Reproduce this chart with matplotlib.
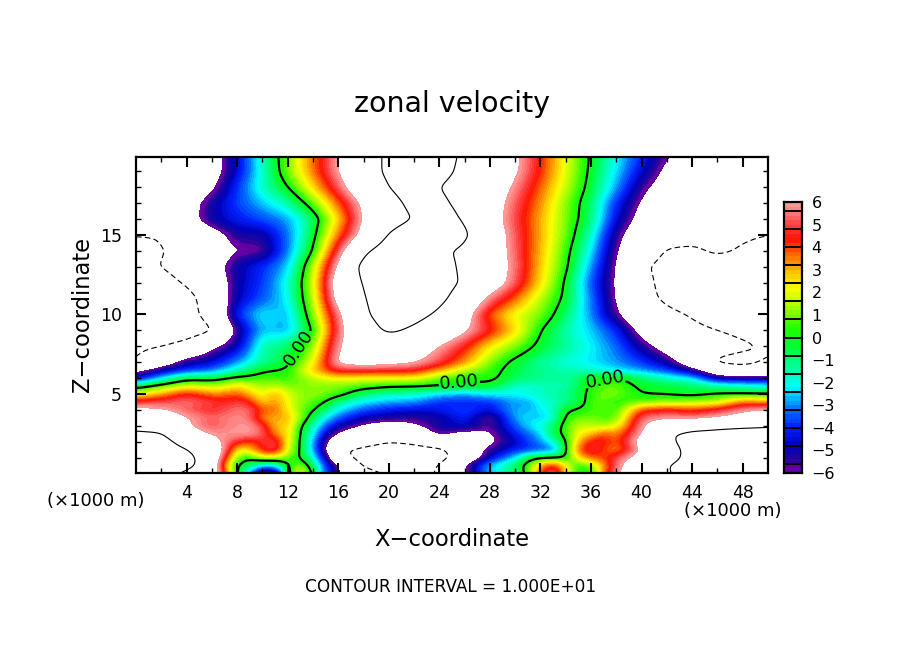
import numpy as np
import matplotlib
matplotlib.use("Agg")
import matplotlib.pyplot as plt
from matplotlib.colors import LinearSegmentedColormap, Normalize

W, H = 904, 654

# ---------- data (zonal velocity) ----------
X_LOW = [0,2,4,6, 7,8,9,10,11,12,13,14,15,16, 18,20,22,24,26,28,30, 31,32,33,34,35,36,37,38, 40,42,44,46,48,50]
Z_LOW = [0,0.5,1,1.5,2,2.5,3,3.5,4,4.5,5,5.5]
U_LOW = [
 [11,10.8,9.5,8, 4.5,-.2,-3,-7.5,-7.5,-.1,3,-.3,-3.5,-5.9, -9,-10.3,-10.3,-10,-6.5,-2.6,-.9, -.1,4,6.3,2.5,0,-.2,3.5,5.8, 8,9.8,11,12.5,12.5,12.5],
 [11.5,11.5,10.8,8.5, 3,-.3,-.8,-2.5,-2.5,0,1.5,-.7,-4,-6, -10.5,-11,-11,-10,-6,-2.5,-.8, .6,3,5,2,0,.7,3,5.5, 8,10,11,12.5,12.5,12.5],
 [11.5,11.5,10.8,8.5, 4.5,.8,-.1,1.8,1.5,.8,.1,-2,-5,-9, -11,-12,-12,-11,-8.5,-4.8,-2.5, -.6,-.1,-.3,-.2,2.5,3.7,4,5, 7,9,10.8,12.5,12.5,12.5],
 [11.5,11,10.2,8, 6,1.8,2.5,4.5,5.5,1.8,0,-2.8,-6,-9.8, -10.5,-11,-11,-10.8,-8,-5.5,-4.2, -4,-3.6,-3.5,-.4,3.8,5.3,4,3, 6.3,9,10.8,12,12,12],
 [11,11,9,6.5, 5.8,4.5,3.8,4.5,5.5,2,0,-2.8,-6,-7.5, -9,-10,-9.5,-7.5,-7.5,-6.5,-4.8, -3.8,-3,-2,-.2,2.8,4.6,4.7,3.6, 7,9.5,11,11.5,11.5,11.5],
 [10.3,10.4,7.2,5.8, 5.9,6,6,5.5,3,2.8,-.2,-2,-5,-6.3, -7.5,-8.5,-8,-5.6,-6.8,-6.3,-4.2, -3.3,-2.7,-.5,.4,2.2,2.6,4,3.2, 6,9.8,10.5,10.4,10.5,10.5],
 [9.5,8.5,6.2,5, 5.5,5.8,6,5,2.5,3,0,-1.5,-3.5,-5, -6.3,-7,-6.3,-5,-4.5,-5.8,-3.5, -2.5,-1.8,-1,.6,1.8,1.5,1.3,1.8, 5.8,8,9,9.7,9.9,10],
 [8,7.5,6.1,5.3, 5.6,5.8,5.5,3,3,3.2,1.2,-.8,-2.3,-3.5, -5,-5.3,-5.5,-5.2,-4,-6.2,-2.8, -2.2,-2.8,-2,.4,.8,1,.5,.7, 5.4,5.8,5.5,6,7,8],
 [6.5,6.2,5.2,4.5, 5,5.5,5.5,3.8,3.8,2.3,1,.2,-1,-2.3, -3.6,-4.3,-4.6,-4.3,-3.6,-4.5,-2.6, -2.9,-2.2,-1.8,0,.1,.5,1,.3, 4,4.5,4,4.7,5.7,6.3],
 [4.8,5,5.5,5, 4.5,5,4.5,2.2,3.6,2,1.2,.7,0,-1.3, -2.3,-2.8,-3,-4,-4,-4,-2.8, -3,-2,-1.7,-1.2,-.8,.7,.9,.3, .7,1,1.2,1.5,3.5,3],
 [1.7,3,4.5,3.3, 3.5,3.9,2.8,1.8,3.3,1.8,1.2,1.2,1,.6, -1,-1.6,-1.7,-2.5,-3,-2.2,-2.2, -1.9,-1.6,-1.4,-1.2,-.6,.5,1,1, 0,-.1,-.4,.1,0,0],
 [-.6,.6,1.8,1.4, 1.6,2.5,1.8,1.2,1.6,.9,1,1.2,1.1,1, .6,.2,.1,.1,-.2,-.3,-1.8, -1.9,-1.7,-1.6,-1.5,-.8,.3,.8,.9, -.3,-.5,-.8,-1.3,-1.8,-2.2],
]
X_UP = [0,2,4,6,8,10,12,14,16,18,20,22,24, 26,28,30,32,34,36,38,40,42,44,46,48,50]
Z_UP = [6,6.5,7,8,9,10,11,12,13,14,15,16,17,18,19,20]
U_UP = [
 [-5,-2.5,-.5,-.6,.3,.5,.5,1.5,2.2,2,2,2,.8, .1,.4,-.8,-1.1,-1.4,-.3,.2,-.9,-1.7,-2.3,-5.4,-5.3,-5.2],
 [-6.6,-5.2,-4,-3.4,-1.7,-.1,.1,2.8,4.8,4.7,4.6,4.6,3, 1.5,.5,-.6,-1.2,-1.5,-1.8,-2.4,-3,-3.8,-5.6,-8,-9,-8.7],
 [-10,-7.5,-5.2,-4.6,-3,-1.3,-.4,2,6.5,7,6.7,6.2,5, 3.2,1,-.4,-1.3,-1.9,-2.3,-2.9,-3.8,-5.2,-7.5,-10.5,-10.7,-9.8],
 [-10.5,-10.1,-9,-6.5,-5,-1.5,-.9,1,6,7.5,8,7.5,6, 4.5,2.3,1,-.4,-1.3,-2.2,-3.3,-5.3,-7,-8,-9,-9.7,-10.3],
 [-12,-12,-11.5,-10.3,-5.5,-2.5,-2.8,0,5.3,8.5,10.6,9.5,8, 6.3,4.5,2.5,0,-1.5,-2.5,-4,-6.8,-8.5,-9.5,-10,-10.5,-10.5],
 [-13,-12,-11,-9,-4,-2.2,-2.8,1,5.6,9.5,11.5,11,9.5, 7,3.8,2,1,-.9,-3,-5.8,-8,-9.5,-10.2,-11,-12,-12],
 [-13,-12.5,-11,-8.5,-4.8,-3.5,-2.2,1.5,7,9.8,12,12.5,10.8, 8.3,5.5,3.7,1.5,-.3,-3.2,-6.2,-9,-10.5,-11,-11.5,-12,-12],
 [-12,-11,-9.7,-7.8,-5,-3.8,-2,1.7,7.5,10.2,12.5,13.5,11.5, 9.5,7.5,5.2,2.5,-.2,-3.5,-6.3,-9,-11,-12,-12,-12,-12],
 [-10.5,-10,-8.8,-7,-5,-4,-2.6,1.4,6.5,11,13,13,11, 9.5,7.5,5.5,2.7,.3,-3,-6.2,-9.5,-11,-11.5,-11.5,-11.5,-11.5],
 [-10.5,-10.2,-9,-7.5,-6,-5.9,-3.2,0,5.1,9.5,11.5,12,10.5, 9.5,7.5,5.3,2.9,.5,-2.3,-6,-8,-10.3,-10.5,-9.5,-10.3,-11],
 [-10,-9.9,-8.5,-7,-5.2,-5.2,-3.3,-.5,3.5,6.8,10.3,12,12.5, 10.5,7.5,5.2,3,.9,-1.7,-5.5,-7.5,-8.5,-9,-9.2,-9.6,-10],
 [-8,-8,-7,-5,-4.2,-3.6,-2.9,-.9,2.6,6.3,8.5,10.2,11, 9.8,7,5,3,1,-1,-4.6,-6.8,-8,-8.5,-8.5,-8.5,-8.5],
 [-8,-8,-7,-5.2,-3.7,-2.6,-1.5,.7,3.7,6.5,9,10.8,10.5, 9.3,7.2,5.2,3.3,1.1,-.9,-4,-6.3,-7.5,-8,-8.5,-8.5,-8.5],
 [-8,-8,-8,-6.4,-3.9,-1.7,-.1,2.5,5.2,8,10,11.5,10, 9,7.5,5.7,3.7,1.6,-.5,-2.9,-5.6,-7,-8,-8.5,-8.5,-8.5],
 [-8,-8,-8,-7,-4.6,-1.8,.9,3.5,6,8.5,10.6,11.5,10.8, 9.4,8,6.3,4.2,1.9,-.3,-2.4,-4.6,-6.5,-7.5,-8,-8,-8],
 [-8,-8,-8,-7,-4.6,-1.7,1,3.6,6.1,8.5,10.6,11.5,11, 9.6,8.2,6.4,4.3,2,-.2,-2.1,-4,-5.9,-7,-7.5,-8,-8],
]
X_TICKS = [4,8,12,16,20,24,28,32,36,40,44,48]
Z_TICKS = [5,10,15]
CB_TICKS = [6,5,4,3,2,1,0,-1,-2,-3,-4,-5,-6]

# colour table
CB_VALUES = [-6,-5.6,-5.5,-4.8,-4,-3.2,-2.2,-1.2,-0.4,0.4,1.2,2.2,2.9,3.6,4.4,5,6]
CB_COLORS = ["#6e00a8","#5a00a0","#22069a","#0000b8","#0020ff","#0070ff","#00ffff","#00ff90","#00ff30",
             "#20ff00","#90ff00","#ffff00","#ffc000","#ff7000","#ff1000","#ff4040","#ffa0a0"]

# ---------- build the field ----------
xf = np.linspace(0, 50, 401)
zf = np.linspace(0, 20, 321)
rows = [np.interp(xf, X_LOW, r) for r in U_LOW] + [np.interp(xf, X_UP, r) for r in U_UP]
zr = np.array(Z_LOW + Z_UP)
rows = np.array(rows)
field = np.array([np.interp(zf, zr, rows[:, j]) for j in range(len(xf))]).T

def smooth(a, sigma, axis):
    n = int(3 * sigma)
    k = np.exp(-0.5 * (np.arange(-n, n + 1) / sigma) ** 2)
    k /= k.sum()
    pad = [(0, 0), (0, 0)]
    pad[axis] = (n, n)
    b = np.pad(a, pad, mode="edge")
    return np.apply_along_axis(lambda m: np.convolve(m, k, mode="valid"), axis, b)

field = smooth(smooth(field, 4, 1), 3, 0)

# ---------- figure ----------
fig = plt.figure(figsize=(W / 100, H / 100), dpi=100, facecolor="white")
def box(x0, y0, x1, y1):
    return [x0 / W, 1 - y1 / H, (x1 - x0) / W, (y1 - y0) / H]
def T(x, y, s, **kw):
    fig.text(x / W, 1 - y / H, s, ha=kw.pop("ha", "center"), va=kw.pop("va", "center"), color="black", **kw)

lo, hi = -6, 6
levels = np.arange(-6, 6.0001, 0.2)
cmap = LinearSegmentedColormap.from_list("zonal", [((v - lo) / (hi - lo), c) for v, c in zip(CB_VALUES, CB_COLORS)], N=256)
norm = Normalize(lo, hi)

ax = fig.add_axes(box(136, 157, 768, 473))
ax.contourf(xf, zf, field, levels=levels, cmap=cmap, norm=norm, antialiased=False)
ax.contour(xf, zf, field, levels=[-10], colors="black", linewidths=0.8, linestyles=[(0, (5, 3))])
ax.contour(xf, zf, field, levels=[10], colors="black", linewidths=0.8, linestyles="solid")
cs = ax.contour(xf, zf, field, levels=[0], colors="black", linewidths=1.6)
labels = ax.clabel(cs, fmt="%.2f", fontsize=13, inline=True, inline_spacing=1,
                   manual=[(13.1, 7.75), (25.6, 5.6), (37.1, 6.0)])
ax.set_xlim(0, 50)
ax.set_ylim(0.03, 19.9)
ax.set_xticks(X_TICKS)
ax.set_xticks(np.arange(2, 50, 4), minor=True)
ax.set_yticks(Z_TICKS)
ax.set_yticks([z for z in range(1, 20) if z % 5], minor=True)
ax.tick_params(which="major", direction="in", top=True, right=True, length=7, width=1.5, labelsize=12.5, pad=8)
ax.tick_params(which="minor", direction="in", top=True, right=True, length=3.5, width=1)
ax.tick_params(axis="y", which="major", pad=10)
for s in ax.spines.values():
    s.set_linewidth(1.6)

# colour bar
cb = fig.add_axes(box(784, 202, 802, 473))
cb.pcolormesh([0, 1], levels, ((levels[:-1] + levels[1:]) / 2)[:, None], cmap=cmap, norm=norm, antialiased=False)
cb.hlines(np.arange(-5.6, 5.7, 0.8), 0, 1, colors="black", linewidth=1.4)
cb.set_xlim(0, 1)
cb.set_ylim(-6, 6)
cb.set_xticks([])
cb.yaxis.tick_right()
cb.set_yticks(CB_TICKS)
cb.set_yticklabels([str(t).replace("-", "\u2212") for t in CB_TICKS])
cb.tick_params(axis="y", length=0, labelsize=11.5, pad=7)
for s in cb.spines.values():
    s.set_linewidth(1.6)

T(452, 104, "zonal velocity", fontsize=20.5)
T(452, 540, "X\u2212coordinate", fontsize=16.3)
T(83, 314, "Z\u2212coordinate", fontsize=16.3, rotation=90)
T(451, 587, "CONTOUR INTERVAL = 1.000E+01", fontsize=12.2)
T(96, 501, "(\u00d71000 m)", fontsize=13)
T(733, 511, "(\u00d71000 m)", fontsize=13)

fig.savefig("out.png", dpi=100, facecolor="white")
